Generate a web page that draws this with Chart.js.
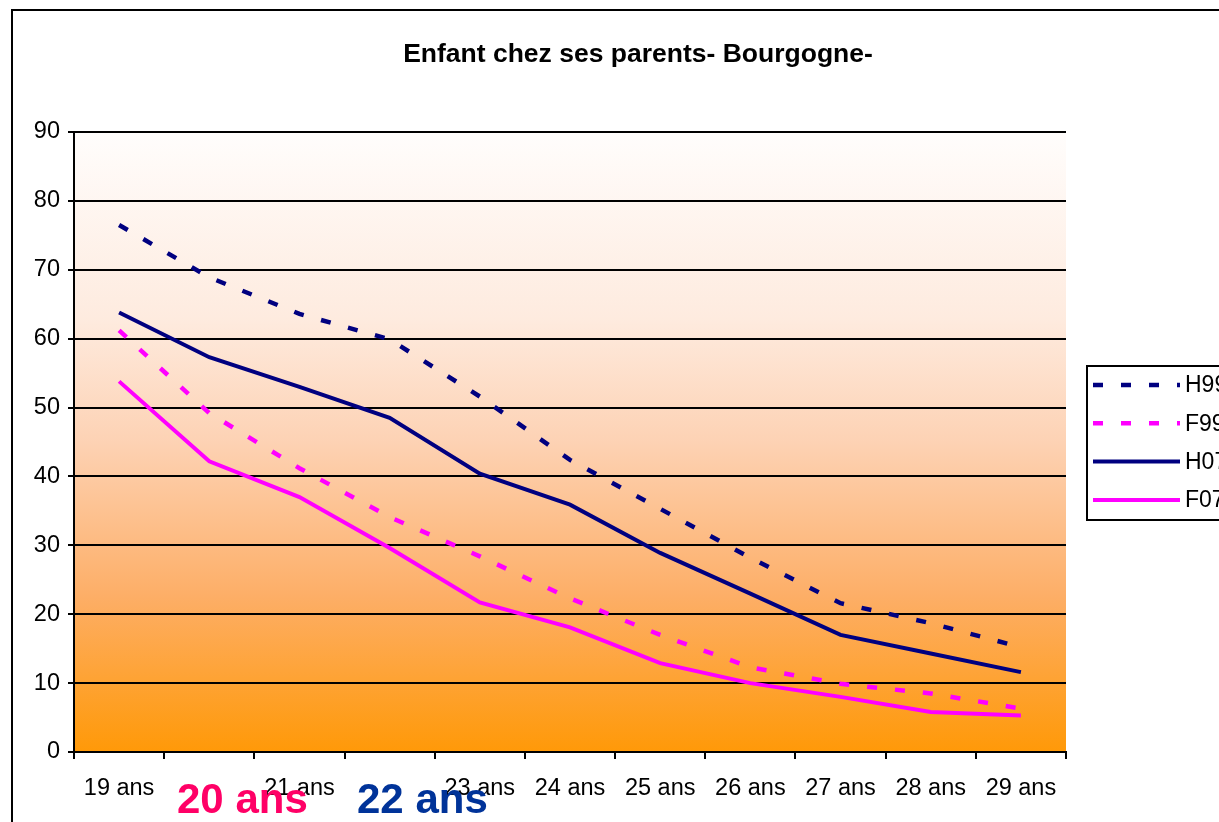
<!DOCTYPE html>
<html>
<head>
<meta charset="utf-8">
<script src="https://cdn.jsdelivr.net/npm/chart.js@4.4.0/dist/chart.umd.min.js"></script>
<style>
  html, body { margin: 0; padding: 0; background: #fff; overflow: hidden; }
  #wrap { position: relative; width: 1219px; height: 822px; }
  #frame { position: absolute; left: 11px; top: 9px; width: 1300px; height: 900px; border: 2px solid #000; box-sizing: border-box; }
  canvas { position: absolute; left: 0; top: 0; }
  .txt { position: absolute; font-family: "Liberation Sans", Arial, sans-serif; font-weight: bold; white-space: nowrap; }
  .big { font-size: 42px; line-height: 42px; }
  #title { font-size: 26.5px; line-height: 26.5px; left: 0; width: 1276px; text-align: center; top: 40px; color: #000; }
</style>
</head>
<body>
<div id="wrap">
  <div id="frame"></div>
  <canvas id="lineChart" width="1219" height="822"></canvas>
  <div id="title" class="txt">Enfant chez ses parents- Bourgogne-</div>
  <div class="txt big" style="left:177px; top:778px; color:#FF0066;">20 ans</div>
  <div class="txt big" style="left:357px; top:778px; color:#003399;">22 ans</div>
</div>
<script>
var ages = ['19 ans', '20 ans', '21 ans', '22 ans', '23 ans', '24 ans', '25 ans', '26 ans', '27 ans', '28 ans', '29 ans'];
var hiddenLabels = ['20 ans', '22 ans'];
var h99 = [76.5, 68.9, 63.6, 59.9, 51.6, 42.4, 35.3, 28.2, 21.6, 18.7, 15.2];
var f99 = [61.2, 49.2, 41.2, 34.1, 28.4, 22.3, 17.0, 12.3, 9.9, 8.5, 6.3];
var h07 = [63.8, 57.3, 53.0, 48.5, 40.4, 35.9, 28.9, 23.0, 17.0, 14.3, 11.6];
var f07 = [53.8, 42.2, 37.0, 29.6, 21.7, 18.1, 12.9, 10.0, 8.0, 5.8, 5.3];
var yTicks = [0, 10, 20, 30, 40, 50, 60, 70, 80, 90];

var navy = '#000080';
var pink = '#FF00FF';
var font = '"Liberation Sans", Arial, sans-serif';

// gradient behind the plot area
var plotBg = {
    id: 'plotBg',
    beforeDraw: function(chart) {
        var ctx = chart.ctx, a = chart.chartArea;
        var g = ctx.createLinearGradient(0, a.top, 0, a.bottom);
        g.addColorStop(0, '#FFFDFC');
        g.addColorStop(0.3, '#FEEBDF');
        g.addColorStop(0.5, '#FDD2B4');
        g.addColorStop(0.75, '#FDAE66');
        g.addColorStop(1, '#FF9908');
        ctx.save();
        ctx.fillStyle = g;
        ctx.fillRect(a.left, a.top, a.right - a.left, a.bottom - a.top);
        ctx.restore();
    }
};

// legend box on the right, cut by the page edge like the original
var sideLegend = {
    id: 'sideLegend',
    afterDraw: function(chart) {
        var ctx = chart.ctx;
        var x = 1087, y = 366;
        ctx.save();
        ctx.fillStyle = '#fff';
        ctx.fillRect(x, y, 200, 154);
        ctx.strokeStyle = '#000';
        ctx.lineWidth = 2;
        ctx.strokeRect(x, y, 200, 154);
        chart.data.datasets.forEach(function(ds, i) {
            var ly = 385 + i * 38.3;
            ctx.beginPath();
            ctx.strokeStyle = ds.borderColor;
            ctx.lineWidth = ds.borderWidth;
            ctx.setLineDash(ds.borderDash || []);
            ctx.moveTo(1093, ly);
            ctx.lineTo(1180, ly);
            ctx.stroke();
            ctx.setLineDash([]);
            ctx.fillStyle = '#000';
            ctx.font = '23px ' + font;
            ctx.textBaseline = 'middle';
            ctx.fillText(ds.label, 1185, ly + 1);
        });
        ctx.restore();
    }
};

var ctx = document.getElementById('lineChart');
var chart = new Chart(ctx, {
    type: 'line',
    data: {
        labels: ages,
        datasets: [
            { label: 'H99', data: h99, borderColor: navy, borderWidth: 4.5, borderDash: [10, 18] },
            { label: 'F99', data: f99, borderColor: pink, borderWidth: 4.5, borderDash: [10, 18] },
            { label: 'H07', data: h07, borderColor: navy, borderWidth: 4 },
            { label: 'F07', data: f07, borderColor: pink, borderWidth: 4 }
        ]
    },
    options: {
        responsive: false,
        animation: false,
        layout: { padding: { left: 0, right: 153, top: 132, bottom: 0 } },
        elements: {
            point: { radius: 0 },
            line: { tension: 0, fill: false, borderCapStyle: 'butt', borderJoinStyle: 'miter' }
        },
        plugins: {
            legend: { display: false },
            tooltip: { enabled: false },
            title: { display: false }
        },
        scales: {
            x: {
                offset: true,
                grid: { display: true, offset: true, drawOnChartArea: false, drawTicks: true, tickLength: 7, color: '#000', lineWidth: 2 },
                border: { display: true, color: '#000', width: 2 },
                ticks: {
                    color: '#000',
                    font: { family: font, size: 23.5 },
                    padding: 15,
                    maxRotation: 0,
                    autoSkip: false,
                    callback: function(v, i) {
                        var l = ages[i];
                        return hiddenLabels.indexOf(l) >= 0 ? '' : l;
                    }
                },
                afterFit: function(s) { s.height = 70; }
            },
            y: {
                min: 0,
                max: 90,
                afterBuildTicks: function(s) { s.ticks = yTicks.map(function(v) { return { value: v }; }); },
                grid: { color: '#000', lineWidth: 2, drawTicks: true, tickLength: 6 },
                border: { display: true, color: '#000', width: 2 },
                ticks: { color: '#000', font: { family: font, size: 23.5 }, padding: 8 },
                afterFit: function(s) { s.width = 74; }
            }
        }
    },
    plugins: [plotBg, sideLegend]
});
</script>
</body>
</html>
